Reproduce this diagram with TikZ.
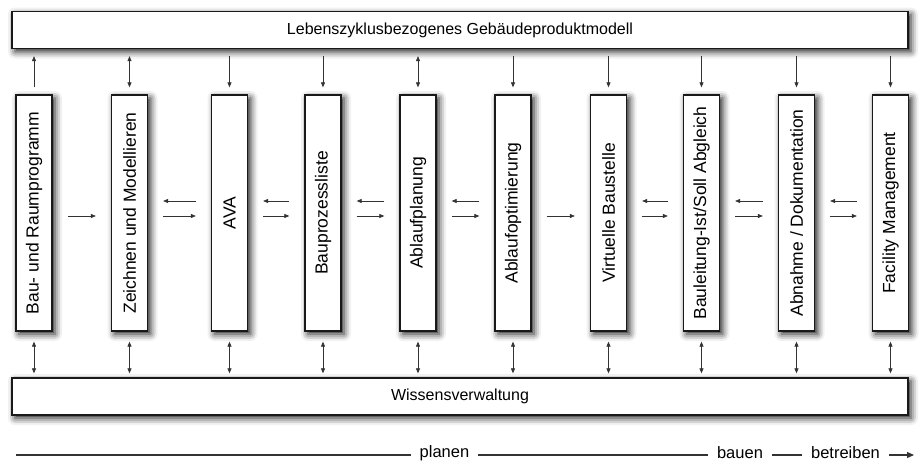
\documentclass[tikz,border=0pt]{standalone}
\usepackage{fontspec}
\usepackage{graphicx}
\setmainfont{Liberation Sans}
\usetikzlibrary{arrows.meta,shadows.blur}
\newcommand\vtext[1]{\rotatebox{90}{\fontsize{17.5}{19}\selectfont #1}}
\begin{document}
\begin{tikzpicture}[x=1pt,y=-1pt,
  box/.style={draw=black!90,line width=1.3pt,fill=white,inner sep=0pt,
    blur shadow={shadow xshift=3pt,shadow yshift=-3pt,shadow blur radius=7pt,shadow opacity=90},
    font=\fontsize{16}{18}\selectfont},
  wide/.style={box,minimum width=896pt,minimum height=37pt},
  col/.style={box,minimum width=36pt,minimum height=236pt},
  tip/.tip={Triangle[length=5pt,width=4pt]},
  link/.style={line width=0.7pt,draw=black!80,-tip},
  both/.style={line width=0.7pt,draw=black!80,tip-tip},
  vgap/.style={shorten <=7pt,shorten >=7pt},
  bgap/.style={shorten <=10pt,shorten >=4pt},
  hgap/.style={shorten <=15pt,shorten >=15pt},
  phase/.style={inner sep=0pt,inner xsep=9pt,font=\fontsize{16.5}{18}\selectfont},
  rule/.style={line width=1.2pt,draw=black!80},
]
\useasboundingbox (0,0) rectangle (924,463);

% information model on top, knowledge base at the bottom
\node[wide] (top) at (460,30) {Lebenszyklusbezogenes Gebäudeproduktmodell};
\node[wide] (bot) at (460,396.5) {Wissensverwaltung};

% process steps
\node[col] (c1)  at (34,213)    {\vtext{Bau- und Raumprogramm}};
\node[col] (c2)  at (129.5,213) {\vtext{Zeichnen und Modellieren}};
\node[col] (c3)  at (229.5,213) {\vtext{AVA}};
\node[col] (c4)  at (323,213)   {\vtext{Bauprozessliste}};
\node[col] (c5)  at (418,213)   {\vtext{Ablaufplanung}};
\node[col] (c6)  at (513,213)   {\vtext{Ablaufoptimierung}};
\node[col] (c7)  at (608.5,213) {\vtext{Virtuelle Baustelle}};
\node[col] (c8)  at (701.5,213) {\vtext{Bauleitung-Ist/Soll Abgleich}};
\node[col] (c9)  at (796.5,213) {\vtext{Abnahme / Dokumentation}};
\node[col] (c10) at (890.5,213) {\vtext{Facility Management}};

% exchange with the product model
\draw[link,vgap] (c1.north) -- (top.south -| c1);
\draw[both,vgap] (top.south -| c2) -- (c2.north);
\draw[link,vgap] (top.south -| c3) -- (c3.north);
\draw[link,vgap] (top.south -| c4) -- (c4.north);
\draw[both,vgap] (top.south -| c5) -- (c5.north);
\foreach \c in {c6,c7,c8,c9,c10}
  \draw[link,vgap] (top.south -| \c) -- (\c.north);

% exchange with the knowledge base
\foreach \c in {c1,c2,c3,c4,c5,c6,c7,c8,c9,c10}
  \draw[both,bgap] (\c.south) -- (bot.north -| \c);

% flow between neighbouring steps
\foreach \a/\b in {c1/c2,c2/c3,c3/c4,c4/c5,c5/c6,c6/c7,c7/c8,c8/c9,c9/c10}
  \draw[link,hgap] ([yshift=-3pt]\a.east) -- ([yshift=-3pt]\b.west);
\foreach \a/\b in {c2/c3,c3/c4,c4/c5,c5/c6,c7/c8,c8/c9,c9/c10}
  \draw[link,hgap] ([yshift=12pt]\b.west) -- ([yshift=12pt]\a.east);

% life cycle phases
\coordinate (start) at (16,455);
\coordinate (end) at (914,455);
\node[phase] (p1) at (444.5,453) {planen};
\node[phase] (p2) at (740,453) {bauen};
\node[phase] (p3) at (845.5,453) {betreiben};
\draw[rule] (start) -- (p1.west |- start);
\draw[rule] (p1.east |- start) -- (p2.west |- start);
\draw[rule] (p2.east |- start) -- (p3.west |- start);
\draw[rule,-{Triangle[length=7pt,width=6pt]}] (p3.east |- start) -- (end);
\end{tikzpicture}
\end{document}
